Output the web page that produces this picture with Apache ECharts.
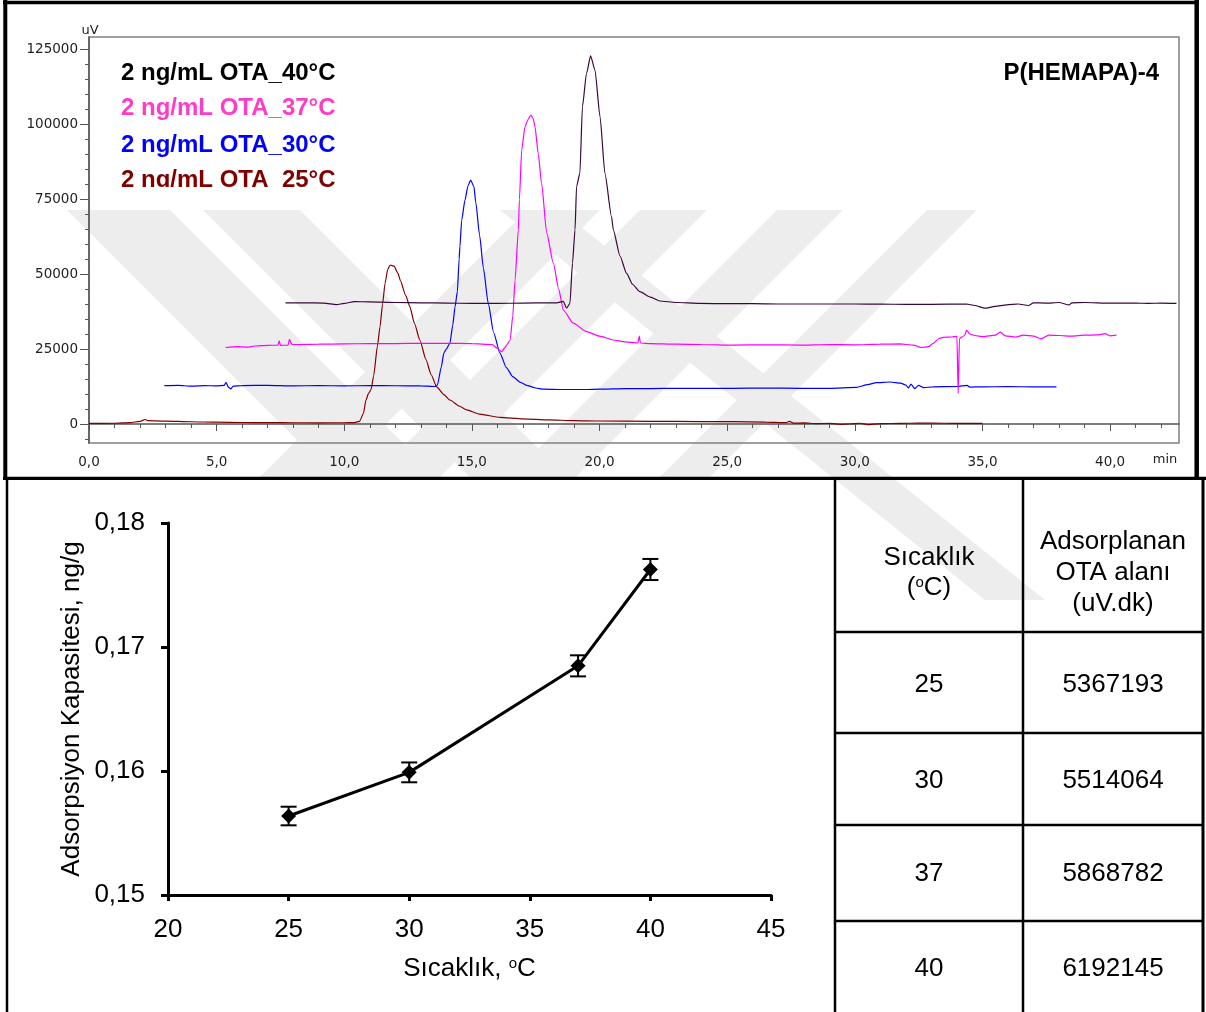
<!DOCTYPE html>
<html><head><meta charset="utf-8">
<script src="https://cdn.jsdelivr.net/npm/echarts@6/dist/echarts.min.js"></script>
<style>html,body{margin:0;padding:0;background:#fff}#c{width:1206px;height:1012px}</style>
</head><body><div id="c"></div><script>
// ---- Chromatograms (retention time in min, detector signal in uV) ----
var trace25 = [[0,200],[1,250],[1.6,450],[2.0,900],[2.2,1500],[2.3,1100],[3,950],[4,750],[5,600],[6,500],[7,450],[8,420],[9,400],[10,420],[10.4,480],[10.6,900],[10.75,3500],[10.85,8000],[10.95,10200],[11.05,11500],[11.15,16000],[11.3,26000],[11.4,32400],[11.5,40000],[11.6,47000],[11.7,51500],[11.8,53000],[11.95,52600],[12.1,50300],[12.2,47800],[12.4,43000],[12.57,39100],[12.75,33500],[12.96,28000],[13.2,21500],[13.4,16500],[13.62,12400],[13.9,9800],[14.14,8000],[14.5,6000],[14.8,4700],[15.3,3300],[16.1,2200],[17,1700],[18,1350],[19,1150],[20,1000],[22,900],[24,800],[25.2,770],[26.5,650],[27.3,450],[27.45,900],[27.6,300],[28,350],[28.5,150],[29,200],[29.5,-100],[29.8,0],[30.2,250],[30.5,-200],[31,150],[31.8,200],[32.5,300],[33.5,250],[34.2,200],[35,200]];
var trace30 = [[2.95,12800],[3.5,12900],[4,12600],[4.5,12800],[5,12700],[5.3,12900],[5.37,13900],[5.45,12400],[5.55,11700],[5.65,12600],[6,12800],[7,12900],[8,12700],[9,12800],[10,12700],[11,12800],[12,12750],[13,12700],[13.55,12500],[13.65,13000],[13.8,19000],[13.9,23600],[14.0,25000],[14.14,27000],[14.25,33000],[14.34,39100],[14.43,44100],[14.5,55000],[14.53,59100],[14.6,68000],[14.73,74700],[14.85,79500],[14.95,81300],[15.08,79100],[15.15,74000],[15.3,63000],[15.45,52000],[15.64,40200],[15.85,30500],[16.1,23600],[16.35,18800],[16.6,15800],[16.9,13900],[17.14,12900],[17.5,12000],[17.8,11600],[18.5,11500],[19.5,11500],[20,11600],[21,11800],[22,11800],[23,11900],[24,11900],[25.2,11900],[26.5,12000],[27.85,11900],[29,11900],[30.07,12200],[30.5,13100],[30.85,13800],[31.4,14000],[31.8,13600],[32,13000],[32.1,12000],[32.2,13300],[32.35,11800],[32.5,12900],[32.7,12100],[33.07,12400],[34,12500],[34.4,12900],[34.5,12300],[35,12400],[36,12450],[37,12400],[37.9,12400]];
var trace37 = [[5.35,25500],[5.8,25800],[6.2,25600],[6.5,26000],[7,26200],[7.4,26300],[7.45,27700],[7.5,26200],[7.8,26300],[7.85,28200],[7.95,26500],[8.26,26500],[9,26600],[10,26700],[11,26800],[12,26800],[13,26900],[14,26900],[15,26800],[15.8,26500],[16.0,25200],[16.16,24100],[16.3,25500],[16.36,26300],[16.5,28000],[16.6,36000],[16.69,48000],[16.82,64700],[16.86,74700],[16.95,91300],[17.08,99100],[17.2,101500],[17.31,103000],[17.4,101800],[17.47,99100],[17.6,90000],[17.73,80200],[17.93,63600],[18.19,53600],[18.4,45000],[18.58,38000],[18.97,33600],[19.49,30800],[20,29300],[20.54,28000],[21,27400],[21.5,27000],[21.56,29300],[21.6,27000],[22,26800],[23,26600],[24,26500],[25.24,26300],[26.5,26400],[27.85,26300],[29,26500],[30,26400],[31,26600],[31.77,26700],[32.3,26300],[32.6,25500],[32.9,25800],[33.07,26900],[33.3,28500],[33.47,28900],[33.8,29000],[34.0,29200],[34.05,10200],[34.1,28500],[34.3,29500],[34.38,31300],[34.5,30000],[34.7,29500],[35.03,29100],[35.5,29600],[35.7,30600],[35.9,29400],[36.3,29000],[36.6,29600],[37,29300],[37.3,28400],[37.6,29600],[38,29500],[38.5,29300],[39,29600],[39.5,29700],[39.8,30100],[40.0,29400],[40.25,29600]];
var trace40 = [[7.7,40400],[8.5,40400],[9.2,40300],[9.7,39800],[10,40200],[10.4,40800],[11,40700],[12,40500],[13,40400],[14,40300],[15,40200],[16,40200],[17,40300],[18,40400],[18.32,40400],[18.58,40900],[18.71,38600],[18.84,40200],[18.94,53600],[19.04,64700],[19.1,79100],[19.23,83600],[19.33,105800],[19.49,116900],[19.65,122700],[19.82,118000],[20.02,102400],[20.21,83600],[20.47,69100],[20.54,64700],[20.8,56000],[21.06,50200],[21.3,46500],[21.58,44100],[22,42300],[22.36,41000],[23,40500],[23.93,40200],[25,40100],[26,40100],[27,40000],[28,40000],[29,40000],[30,40000],[31,39950],[32,39900],[33,39900],[34.38,40000],[34.7,39500],[35.1,38600],[35.5,39200],[35.95,39700],[36.4,40000],[36.8,39500],[37,40400],[37.5,40300],[38,40500],[38.4,39700],[38.5,40400],[39,40500],[40,40300],[41,40300],[41.5,40200],[42,40300],[42.6,40200]];
var traceNames = ['2 ng/mL OTA_40°C', '2 ng/mL OTA_37°C', '2 ng/mL OTA_30°C', '2 ng/mL OTA_25°C'];
var sampleTitle = 'P(HEMAPA)-4';

var chromYTicks = [0, 25000, 50000, 75000, 100000, 125000];
var chromYMinor = [-5000, 5000, 10000, 15000, 20000, 30000, 35000, 40000, 45000, 55000, 60000, 65000, 70000, 80000, 85000, 90000, 95000, 105000, 110000, 115000, 120000];
var chromXMinor = [1, 2, 3, 4, 6, 7, 8, 9, 11, 12, 13, 14, 16, 17, 18, 19, 21, 22, 23, 24, 26, 27, 28, 29, 31, 32, 33, 34, 36, 37, 38, 39, 41, 42];

// ---- Adsorption capacity vs temperature ----
var tempC = [25, 30, 37, 40];
var capacity = [0.15637, 0.15989, 0.16848, 0.17625];
var capacityErr = [0.00075, 0.0008, 0.00085, 0.00085];
var area = [5367193, 5514064, 5868782, 6192145];

var SANS = '"Liberation Sans", Arial, sans-serif';
var DV = '"DejaVu Sans", Verdana, sans-serif';

var chart = echarts.init(document.getElementById('c'), null, {renderer: 'canvas'});

function hline(x1, x2, y, w, c) {
  return {type: 'line', silent: true, z: 10, shape: {x1: x1, y1: y, x2: x2, y2: y}, style: {stroke: c || '#000', lineWidth: w}};
}
function vline(x, y1, y2, w, c) {
  return {type: 'line', silent: true, z: 10, shape: {x1: x, y1: y1, x2: x, y2: y2}, style: {stroke: c || '#000', lineWidth: w}};
}
function txt(x, y, s, size, opt) {
  opt = opt || {};
  return {type: 'text', silent: true, z: 11, x: x, y: y, style: {
    text: s, fontSize: size, fontFamily: opt.font || SANS, fontWeight: opt.weight || 'normal',
    fill: opt.color || '#000', align: opt.align || 'center', verticalAlign: 'middle', rich: opt.rich
  }};
}
// light grey diagonal band of the page watermark
function band(points) {
  return {type: 'polygon', silent: true, z: -5, shape: {points: points}, style: {fill: '#ededed'}};
}

var legendColors = ['#000000', '#ff3cc8', '#0000ff', '#800000'];
var legendY = [73.5, 108.5, 145, 180];

var graphics = [];
// watermark
graphics.push(band([[67, 210], [170, 210], [437, 477], [334, 477]]));
graphics.push(band([[203, 210], [300, 210], [567, 477], [470, 477]]));
graphics.push(band([[527, 210], [600, 210], [333, 477], [260, 477]]));
graphics.push(band([[640, 210], [707, 210], [440, 477], [373, 477]]));
graphics.push(band([[777, 210], [843, 210], [576, 477], [510, 477]]));
graphics.push(band([[927, 210], [977, 210], [710, 477], [660, 477]]));
graphics.push(band([[500, 210], [560, 210], [1045, 600], [985, 600]]));
// frames
graphics.push(hline(3, 1199, 2.5, 3.5));
graphics.push(vline(5.3, 0, 479, 4));
graphics.push(vline(1196.7, 0, 479, 4.5));
graphics.push(hline(3, 1206, 478.3, 3.3));
graphics.push(vline(7, 478, 1012, 2.5));
// chromatogram labels
traceNames.forEach(function (n, i) {
  graphics.push(txt(121, legendY[i], n, 24, {weight: 'bold', color: legendColors[i], align: 'left'}));
});
graphics.push({type: 'rect', silent: true, z: 12, shape: {x: 110, y: 187, width: 240, height: 12}, style: {fill: '#fff'}});
graphics.push(txt(1159, 73.5, sampleTitle, 24, {weight: 'bold', align: 'right'}));
graphics.push(txt(90, 31, 'uV', 13, {font: DV, color: '#222'}));
graphics.push(txt(1165, 460, 'min', 13, {font: DV, color: '#222'}));

// table
var tl = 835, tm = 1023, tr = 1203;
var rowLines = [632, 733, 825, 921];
graphics.push(vline(tl, 478, 1012, 2.5));
graphics.push(vline(tm, 478, 1012, 2.5));
graphics.push(vline(tr, 478, 1012, 3));
rowLines.forEach(function (y) { graphics.push(hline(tl, tr, y, 2.5)); });
var c1 = (tl + tm) / 2, c2 = (tm + tr) / 2;
graphics.push(txt(c1, 558, 'Sıcaklık', 26));
graphics.push(txt(c1, 588, '({s|o}C)', 26, {rich: {s: {fontSize: 15, fontFamily: SANS, verticalAlign: 'top', fill: '#000'}}}));
graphics.push(txt(c2, 542, 'Adsorplanan', 26));
graphics.push(txt(c2, 573, 'OTA alanı', 26));
graphics.push(txt(c2, 604, '(uV.dk)', 26));
var rowCenters = [685, 781, 874, 969];
tempC.forEach(function (t, i) {
  graphics.push(txt(c1, rowCenters[i], String(t), 26));
  graphics.push(txt(c2, rowCenters[i], String(area[i]), 26));
});

function traceSeries(data, color) {
  return {type: 'line', xAxisIndex: 0, yAxisIndex: 0, data: data, showSymbol: false, symbol: 'none',
    smooth: 0.2, smoothMonotone: 'x', lineStyle: {color: color, width: 1.2}, z: 3};
}

var option = {
  animation: false,
  backgroundColor: '#fff',
  grid: [
    {left: 89, top: 37, width: 1090, height: 406, show: true, borderColor: '#808080', borderWidth: 1.5, backgroundColor: 'transparent'},
    {left: 168, top: 523, width: 603, height: 372}
  ],
  xAxis: [
    {type: 'value', gridIndex: 0, position: 'bottom', min: 0, max: 42.7, interval: 5,
      axisLine: {lineStyle: {color: '#555', width: 1.5}},
      axisTick: {length: 7, lineStyle: {color: '#555'}},
      axisLabel: {fontFamily: DV, fontSize: 13.5, color: '#222', margin: 12, showMaxLabel: false,
        formatter: function (v) { return v.toFixed(1).replace('.', ','); }},
      splitLine: {show: false}},
    {type: 'value', gridIndex: 0, position: 'bottom', min: 0, max: 42.7,
      axisLine: {show: false}, axisLabel: {show: false}, splitLine: {show: false},
      axisTick: {show: true, length: 4, customValues: chromXMinor, lineStyle: {color: '#555'}}},
    {type: 'value', gridIndex: 1, min: 20, max: 45, interval: 5,
      axisLine: {lineStyle: {color: '#000', width: 3}},
      axisTick: {length: 6, lineStyle: {color: '#000', width: 3}},
      axisLabel: {fontFamily: SANS, fontSize: 26, color: '#000', margin: 22},
      splitLine: {show: false},
      name: 'Sıcaklık, {s|o}C', nameLocation: 'middle', nameGap: 61,
      nameTextStyle: {fontFamily: SANS, fontSize: 26, color: '#000',
        rich: {s: {fontSize: 15, fontFamily: SANS, color: '#000', verticalAlign: 'top'}}}}
  ],
  yAxis: [
    {type: 'value', gridIndex: 0, position: 'left', min: -6333, max: 129000,
      axisLine: {show: true, lineStyle: {color: '#555', width: 1.5}},
      axisTick: {show: true, length: 9, customValues: chromYTicks, lineStyle: {color: '#555'}},
      axisLabel: {fontFamily: DV, fontSize: 13.5, color: '#222', margin: 11, customValues: chromYTicks,
        formatter: function (v) { return String(v); }},
      splitLine: {show: false}},
    {type: 'value', gridIndex: 0, position: 'left', min: -6333, max: 129000,
      axisLine: {show: false}, axisLabel: {show: false}, splitLine: {show: false},
      axisTick: {show: true, length: 4, customValues: chromYMinor, lineStyle: {color: '#555'}}},
    {type: 'value', gridIndex: 1, min: 0.15, max: 0.18, interval: 0.01,
      axisLine: {show: true, lineStyle: {color: '#000', width: 3}},
      axisTick: {show: true, length: 7, lineStyle: {color: '#000', width: 3}},
      axisLabel: {fontFamily: SANS, fontSize: 26, color: '#000', margin: 23,
        formatter: function (v) { return v.toFixed(2).replace('.', ','); }},
      splitLine: {show: false},
      name: 'Adsorpsiyon Kapasitesi, ng/g', nameLocation: 'middle', nameGap: 83,
      nameTextStyle: {fontFamily: SANS, fontSize: 26, color: '#000'}}
  ],
  graphic: graphics,
  series: [
    traceSeries(trace25, '#800000'),
    traceSeries(trace30, '#0000ff'),
    traceSeries(trace37, '#ff00ff'),
    traceSeries(trace40, '#3a0838'),
    {type: 'custom', xAxisIndex: 2, yAxisIndex: 2, z: 4,
      data: tempC.map(function (t, i) { return [t, capacity[i] - capacityErr[i], capacity[i] + capacityErr[i]]; }),
      encode: {x: 0, y: [1, 2]},
      renderItem: function (params, api) {
        var x = api.value(0);
        var lo = api.coord([x, api.value(1)]);
        var hi = api.coord([x, api.value(2)]);
        var w = 8, st = {stroke: '#000', lineWidth: 2};
        return {type: 'group', children: [
          {type: 'line', shape: {x1: lo[0], y1: lo[1], x2: hi[0], y2: hi[1]}, style: st},
          {type: 'line', shape: {x1: hi[0] - w, y1: hi[1], x2: hi[0] + w, y2: hi[1]}, style: st},
          {type: 'line', shape: {x1: lo[0] - w, y1: lo[1], x2: lo[0] + w, y2: lo[1]}, style: st}
        ]};
      }},
    {type: 'line', xAxisIndex: 2, yAxisIndex: 2, z: 5,
      data: tempC.map(function (t, i) { return [t, capacity[i]]; }),
      symbol: 'diamond', symbolSize: [15, 15], showSymbol: true,
      itemStyle: {color: '#000'}, lineStyle: {color: '#000', width: 3}}
  ]
};
chart.setOption(option);
</script></body></html>
